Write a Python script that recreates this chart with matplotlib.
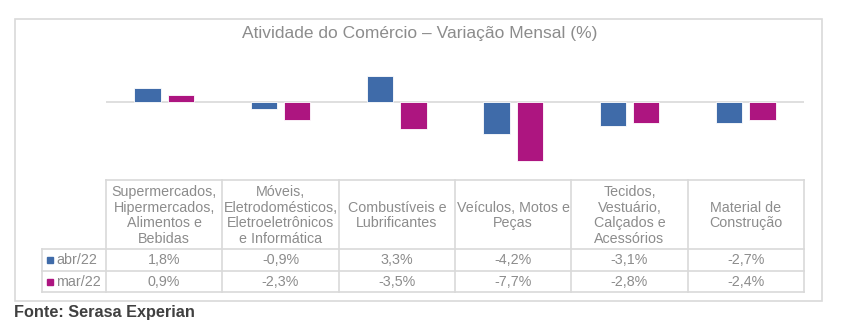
import matplotlib.pyplot as plt
import numpy as np

plt.rcParams['font.family'] = ['Liberation Sans', 'DejaVu Sans']

categorias = [
    "Supermercados,\nHipermercados,\nAlimentos e\nBebidas",
    "Móveis,\nEletrodomésticos,\nEletroeletrônicos\ne Informática",
    "Combustíveis e\nLubrificantes",
    "Veículos, Motos e\nPeças",
    "Tecidos,\nVestuário,\nCalçados e\nAcessórios",
    "Material de\nConstrução",
]
series = ["abr/22", "mar/22"]
abr22 = [1.8, -0.9, 3.3, -4.2, -3.1, -2.7]
mar22 = [0.9, -2.3, -3.5, -7.7, -2.8, -2.4]

cores = ["#3F6BA9", "#AD1580"]
cinza_txt = "#8C8C8C"
cinza_linha = "#D9D9D9"

W, H = 841, 329
fig = plt.figure(figsize=(W / 100, H / 100), dpi=100)

# fundo em coordenadas de pixel (moldura, tabela, textos)
bg = fig.add_axes([0, 0, 1, 1])
bg.set_xlim(0, W)
bg.set_ylim(H, 0)
bg.axis("off")

# moldura do grafico
bg.add_patch(plt.Rectangle((15, 19), 807, 282, fill=False, ec=cinza_linha, lw=1.2))
bg.text(420, 38, "Atividade do Comércio – Variação Mensal (%)", ha="center",
        va="baseline", fontsize=12.5, color=cinza_txt)

# area das barras
x0, x1, ytop, ybot = 106, 804, 40, 179
ax = fig.add_axes([x0 / W, 1 - ybot / H, (x1 - x0) / W, (ybot - ytop) / H])
ax.patch.set_alpha(0)
x = np.arange(len(categorias))
larg = 0.225
ax.bar(x - 0.143, abr22, larg, color=cores[0], edgecolor="white", linewidth=0.6)
ax.bar(x + 0.143, mar22, larg, color=cores[1], edgecolor="white", linewidth=0.6)
ax.axhline(0, color=cinza_linha, lw=1.2, zorder=0)
ax.set_xlim(-0.5, len(categorias) - 0.5)
ax.set_ylim(-10, 8)
ax.axis("off")

# tabela de dados
col_w = (x1 - x0) / len(categorias)
cols = [x0 + i * col_w for i in range(len(categorias) + 1)]
t_top, t_head, t_r1, t_r2 = 180, 249, 271, 292
leg_x = 42
bg.plot([x0, x1], [t_top, t_top], color=cinza_linha, lw=1.2)
for yy in (t_head, t_r1, t_r2):
    bg.plot([leg_x, x1], [yy, yy], color=cinza_linha, lw=1.2)
for cx in cols:
    bg.plot([cx, cx], [t_top, t_r2], color=cinza_linha, lw=1.2)
bg.plot([leg_x, leg_x], [t_head, t_r2], color=cinza_linha, lw=1.2)

fs = 10.3
for i, cat in enumerate(categorias):
    cx = (cols[i] + cols[i + 1]) / 2
    bg.text(cx, (t_top + t_head) / 2 + 1, cat, ha="center", va="center",
            fontsize=fs, color=cinza_txt, linespacing=1.17)
    bg.text(cx, (t_head + t_r1) / 2, f"{abr22[i]:.1f}%".replace(".", ","),
            ha="center", va="center", fontsize=fs, color=cinza_txt)
    bg.text(cx, (t_r1 + t_r2) / 2, f"{mar22[i]:.1f}%".replace(".", ","),
            ha="center", va="center", fontsize=fs, color=cinza_txt)

for nome, cor, (ya, yb) in zip(series, cores, [(t_head, t_r1), (t_r1, t_r2)]):
    ym = (ya + yb) / 2
    bg.add_patch(plt.Rectangle((47, ym - 3), 6, 6, color=cor))
    bg.text(56, ym, nome, ha="left", va="center", fontsize=fs, color=cinza_txt)

bg.text(14, 317, "Fonte: Serasa Experian", ha="left", va="baseline",
        fontsize=11.7, fontweight="bold", color="#404040")

fig.savefig("out.png", dpi=100)
